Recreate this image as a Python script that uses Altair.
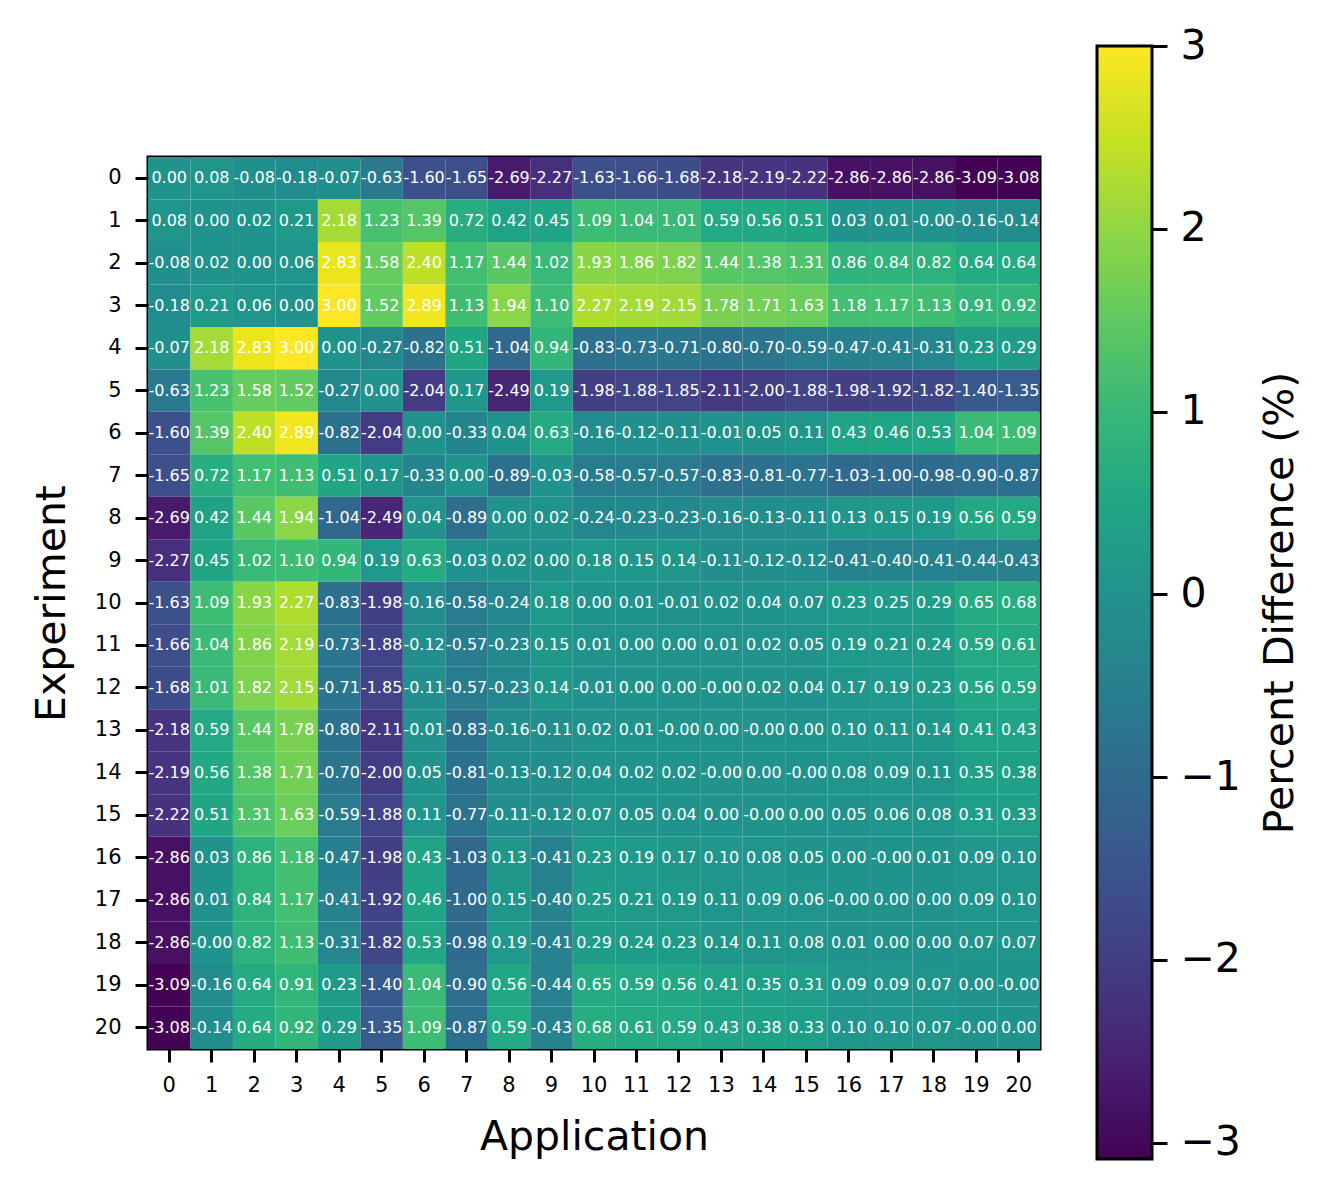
import altair as alt
import pandas as pd

applications = list(range(21))
experiments = list(range(21))

# rows = Experiment, columns = Application ; -0.001 marks values printed as "-0.00"
values = [
    [0.00, 0.08, -0.08, -0.18, -0.07, -0.63, -1.60, -1.65, -2.69, -2.27, -1.63, -1.66, -1.68, -2.18, -2.19, -2.22, -2.86, -2.86, -2.86, -3.09, -3.08],
    [0.08, 0.00, 0.02, 0.21, 2.18, 1.23, 1.39, 0.72, 0.42, 0.45, 1.09, 1.04, 1.01, 0.59, 0.56, 0.51, 0.03, 0.01, -0.001, -0.16, -0.14],
    [-0.08, 0.02, 0.00, 0.06, 2.83, 1.58, 2.40, 1.17, 1.44, 1.02, 1.93, 1.86, 1.82, 1.44, 1.38, 1.31, 0.86, 0.84, 0.82, 0.64, 0.64],
    [-0.18, 0.21, 0.06, 0.00, 3.00, 1.52, 2.89, 1.13, 1.94, 1.10, 2.27, 2.19, 2.15, 1.78, 1.71, 1.63, 1.18, 1.17, 1.13, 0.91, 0.92],
    [-0.07, 2.18, 2.83, 3.00, 0.00, -0.27, -0.82, 0.51, -1.04, 0.94, -0.83, -0.73, -0.71, -0.80, -0.70, -0.59, -0.47, -0.41, -0.31, 0.23, 0.29],
    [-0.63, 1.23, 1.58, 1.52, -0.27, 0.00, -2.04, 0.17, -2.49, 0.19, -1.98, -1.88, -1.85, -2.11, -2.00, -1.88, -1.98, -1.92, -1.82, -1.40, -1.35],
    [-1.60, 1.39, 2.40, 2.89, -0.82, -2.04, 0.00, -0.33, 0.04, 0.63, -0.16, -0.12, -0.11, -0.01, 0.05, 0.11, 0.43, 0.46, 0.53, 1.04, 1.09],
    [-1.65, 0.72, 1.17, 1.13, 0.51, 0.17, -0.33, 0.00, -0.89, -0.03, -0.58, -0.57, -0.57, -0.83, -0.81, -0.77, -1.03, -1.00, -0.98, -0.90, -0.87],
    [-2.69, 0.42, 1.44, 1.94, -1.04, -2.49, 0.04, -0.89, 0.00, 0.02, -0.24, -0.23, -0.23, -0.16, -0.13, -0.11, 0.13, 0.15, 0.19, 0.56, 0.59],
    [-2.27, 0.45, 1.02, 1.10, 0.94, 0.19, 0.63, -0.03, 0.02, 0.00, 0.18, 0.15, 0.14, -0.11, -0.12, -0.12, -0.41, -0.40, -0.41, -0.44, -0.43],
    [-1.63, 1.09, 1.93, 2.27, -0.83, -1.98, -0.16, -0.58, -0.24, 0.18, 0.00, 0.01, -0.01, 0.02, 0.04, 0.07, 0.23, 0.25, 0.29, 0.65, 0.68],
    [-1.66, 1.04, 1.86, 2.19, -0.73, -1.88, -0.12, -0.57, -0.23, 0.15, 0.01, 0.00, 0.00, 0.01, 0.02, 0.05, 0.19, 0.21, 0.24, 0.59, 0.61],
    [-1.68, 1.01, 1.82, 2.15, -0.71, -1.85, -0.11, -0.57, -0.23, 0.14, -0.01, 0.00, 0.00, -0.001, 0.02, 0.04, 0.17, 0.19, 0.23, 0.56, 0.59],
    [-2.18, 0.59, 1.44, 1.78, -0.80, -2.11, -0.01, -0.83, -0.16, -0.11, 0.02, 0.01, -0.001, 0.00, -0.001, 0.00, 0.10, 0.11, 0.14, 0.41, 0.43],
    [-2.19, 0.56, 1.38, 1.71, -0.70, -2.00, 0.05, -0.81, -0.13, -0.12, 0.04, 0.02, 0.02, -0.001, 0.00, -0.001, 0.08, 0.09, 0.11, 0.35, 0.38],
    [-2.22, 0.51, 1.31, 1.63, -0.59, -1.88, 0.11, -0.77, -0.11, -0.12, 0.07, 0.05, 0.04, 0.00, -0.001, 0.00, 0.05, 0.06, 0.08, 0.31, 0.33],
    [-2.86, 0.03, 0.86, 1.18, -0.47, -1.98, 0.43, -1.03, 0.13, -0.41, 0.23, 0.19, 0.17, 0.10, 0.08, 0.05, 0.00, -0.001, 0.01, 0.09, 0.10],
    [-2.86, 0.01, 0.84, 1.17, -0.41, -1.92, 0.46, -1.00, 0.15, -0.40, 0.25, 0.21, 0.19, 0.11, 0.09, 0.06, -0.001, 0.00, 0.00, 0.09, 0.10],
    [-2.86, -0.001, 0.82, 1.13, -0.31, -1.82, 0.53, -0.98, 0.19, -0.41, 0.29, 0.24, 0.23, 0.14, 0.11, 0.08, 0.01, 0.00, 0.00, 0.07, 0.07],
    [-3.09, -0.16, 0.64, 0.91, 0.23, -1.40, 1.04, -0.90, 0.56, -0.44, 0.65, 0.59, 0.56, 0.41, 0.35, 0.31, 0.09, 0.09, 0.07, 0.00, -0.001],
    [-3.08, -0.14, 0.64, 0.92, 0.29, -1.35, 1.09, -0.87, 0.59, -0.43, 0.68, 0.61, 0.59, 0.43, 0.38, 0.33, 0.10, 0.10, 0.07, -0.001, 0.00],
]

colorbar_ticks = [-3, -2, -1, 0, 1, 2, 3]

rows = []
for ei, e in enumerate(experiments):
    for ai, a in enumerate(applications):
        v = values[ei][ai]
        rows.append({"Experiment": e, "Application": a, "value": v, "label": f"{v:.2f}"})
df = pd.DataFrame(rows)

FONT = "DejaVu Sans"
CBAR_LEN = 1113  # colorbar length in px
CBAR_TOP = -111  # colorbar top relative to plot area

x_enc = alt.X(
    "Application:O",
    sort=applications,
    scale=alt.Scale(paddingInner=0, paddingOuter=0),
    axis=alt.Axis(
        title="Application",
        labelAngle=0,
        labelFontSize=21,
        tickSize=13,
        tickWidth=3,
        labelPadding=12,
        titlePadding=22,
    ),
)
y_enc = alt.Y(
    "Experiment:O",
    sort=experiments,
    scale=alt.Scale(paddingInner=0, paddingOuter=0),
    axis=alt.Axis(
        title="Experiment",
        labelFontSize=21,
        tickSize=13,
        tickWidth=3,
        labelPadding=14,
        titlePadding=21,
    ),
)

base = alt.Chart(df).encode(x=x_enc, y=y_enc)

rects = base.mark_rect().encode(
    color=alt.Color(
        "value:Q",
        scale=alt.Scale(scheme="viridis", zero=False, nice=False),
        legend=alt.Legend(
            title=None,
            orient="none",
            legendX=949,
            legendY=CBAR_TOP,
            direction="vertical",
            gradientLength=CBAR_LEN,
            gradientThickness=55,
            gradientStrokeColor="black",
            gradientStrokeWidth=3,
            values=colorbar_ticks,
            labelOpacity=0,
            labelFontSize=10,
        ),
    )
)

texts = base.mark_text(
    color="white", fontSize=16, font=FONT, align="center", baseline="middle"
).encode(text="label:N")

heatmap = alt.layer(rects, texts)

# invisible layer that carries the colorbar's tick axis and title
cbar_axis = alt.Chart(df).mark_tick(opacity=0).encode(
    x=alt.X("Application:O", sort=applications),
    y=alt.Y(
        "value:Q",
        scale=alt.Scale(zero=False, nice=False, range=[CBAR_TOP + CBAR_LEN, CBAR_TOP]),
        axis=alt.Axis(
            orient="right",
            offset=112,
            values=colorbar_ticks,
            labelExpr="replace(format(datum.value, 'd'), '-', '\u2212')",
            labelFontSize=41,
            tickSize=15,
            tickWidth=3,
            labelPadding=13,
            title="Percent Difference (%)",
            titleAngle=270,
            titleBaseline="top",
            titleFontSize=41,
            titlePadding=20,
        ),
    ),
)

chart = (
    alt.layer(heatmap, cbar_axis)
    .resolve_scale(y="independent")
    .properties(
        width=892,
        height=892,
        padding={"left": 140, "top": 149, "right": 281, "bottom": 130},
        autosize=alt.AutoSizeParams(type="none"),
    )
    .configure_axis(
        labelFont=FONT,
        titleFont=FONT,
        labelColor="black",
        titleColor="black",
        tickColor="black",
        titleFontSize=41,
        titleFontWeight="normal",
        domain=False,
        grid=False,
    )
    .configure_view(stroke="black", strokeWidth=3)
)

chart.save("out.html", embed_options={"renderer": "svg", "actions": False})
